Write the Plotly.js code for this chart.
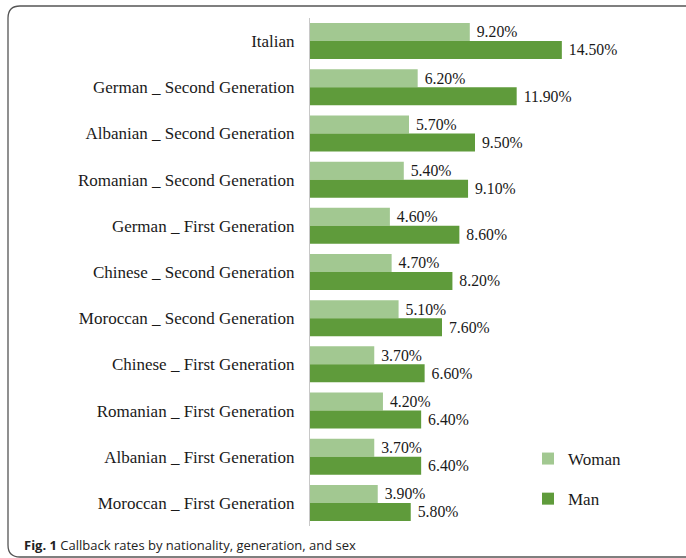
<!DOCTYPE html>
<html>
<head>
<meta charset="utf-8">
<script src="https://cdn.plot.ly/plotly-3.0.1.min.js"></script>
<style>html,body{margin:0;padding:0;background:#fff;}#chart{width:686px;height:558px;}</style>
</head>
<body>
<div id="chart"></div>
<script>
const categories = [
  "Italian",
  "German _ Second Generation",
  "Albanian _ Second Generation",
  "Romanian _ Second Generation",
  "German _ First Generation",
  "Chinese _ Second Generation",
  "Moroccan _ Second Generation",
  "Chinese _ First Generation",
  "Romanian _ First Generation",
  "Albanian _ First Generation",
  "Moroccan _ First Generation"
];
const womanValues = [9.2, 6.2, 5.7, 5.4, 4.6, 4.7, 5.1, 3.7, 4.2, 3.7, 3.9];
const manValues = [14.5, 11.9, 9.5, 9.1, 8.6, 8.2, 7.6, 6.6, 6.4, 6.4, 5.8];
const seriesNames = ["Woman", "Man"];
const caption = "<b>Fig. 1</b> Callback rates by nationality, generation, and sex";

const W = 686, H = 558;
const M = {l: 310, r: 46, t: 18, b: 32};
const pw = W - M.l - M.r, ph = H - M.t - M.b;
function px(x) { return (x - M.l) / pw; }
function py(y) { return (H - M.b - y) / ph; }

const serif = "Liberation Serif, Times New Roman, serif";
const labelFont = {family: serif, size: 17, color: "#1a1a1a"};
const valueFont = {family: serif, size: 17.5, color: "#1a1a1a"};

function fmt(v) { return "\u00a0" + v.toFixed(2) + "%"; }

const traces = [
  {
    type: "bar", orientation: "h", name: seriesNames[0], legendgroup: "w",
    y: categories, x: womanValues, text: womanValues.map(fmt),
    textposition: "outside", outsidetextfont: valueFont, cliponaxis: false,
    marker: {color: "#a2c891"}, hoverinfo: "none"
  },
  {
    type: "bar", orientation: "h", name: seriesNames[1], legendgroup: "m",
    y: categories, x: manValues, text: manValues.map(fmt),
    textposition: "outside", outsidetextfont: valueFont, cliponaxis: false,
    marker: {color: "#5f9b3b"}, hoverinfo: "none"
  }
];

// decorative frame (rounded rectangle) in pixel terms converted to paper
const fx0 = 8, fy0 = 6, fx1 = 700, fy1 = 557, r = 12;
const framePath =
  "M " + px(fx1) + "," + py(fy0) +
  " L " + px(fx0 + r) + "," + py(fy0) +
  " Q " + px(fx0) + "," + py(fy0) + " " + px(fx0) + "," + py(fy0 + r) +
  " L " + px(fx0) + "," + py(fy1 - r) +
  " Q " + px(fx0) + "," + py(fy1) + " " + px(fx0 + r) + "," + py(fy1) +
  " L " + px(fx1) + "," + py(fy1);

const layout = {
  width: W, height: H,
  margin: M,
  paper_bgcolor: "#ffffff", plot_bgcolor: "#ffffff",
  barmode: "group", bargap: 0.22, bargroupgap: 0,
  showlegend: true,
  legend: {
    x: px(528), xanchor: "left", y: py(479), yanchor: "middle",
    traceorder: "grouped", tracegroupgap: 15,
    font: labelFont, bgcolor: "rgba(0,0,0,0)"
  },
  xaxis: {range: [0, 19], showgrid: false, zeroline: false, showticklabels: false, ticks: "", showline: false, fixedrange: true},
  yaxis: {
    type: "category", autorange: "reversed", showgrid: false, zeroline: false,
    showline: true, linecolor: "#c8c8c8", linewidth: 1, ticks: "",
    tickfont: labelFont, ticklabelstandoff: 11, fixedrange: true
  },
  shapes: [{
    type: "path", xref: "paper", yref: "paper", path: framePath,
    line: {color: "#555555", width: 1.3}, layer: "above"
  }],
  annotations: [{
    xref: "paper", yref: "paper", x: px(22), y: py(545), xanchor: "left", yanchor: "middle",
    text: caption, showarrow: false,
    font: {family: "Open Sans, Lato, sans-serif", size: 13, color: "#222222"}
  }]
};

Plotly.newPlot("chart", traces, layout, {displayModeBar: false, staticPlot: true});
</script>
</body>
</html>
